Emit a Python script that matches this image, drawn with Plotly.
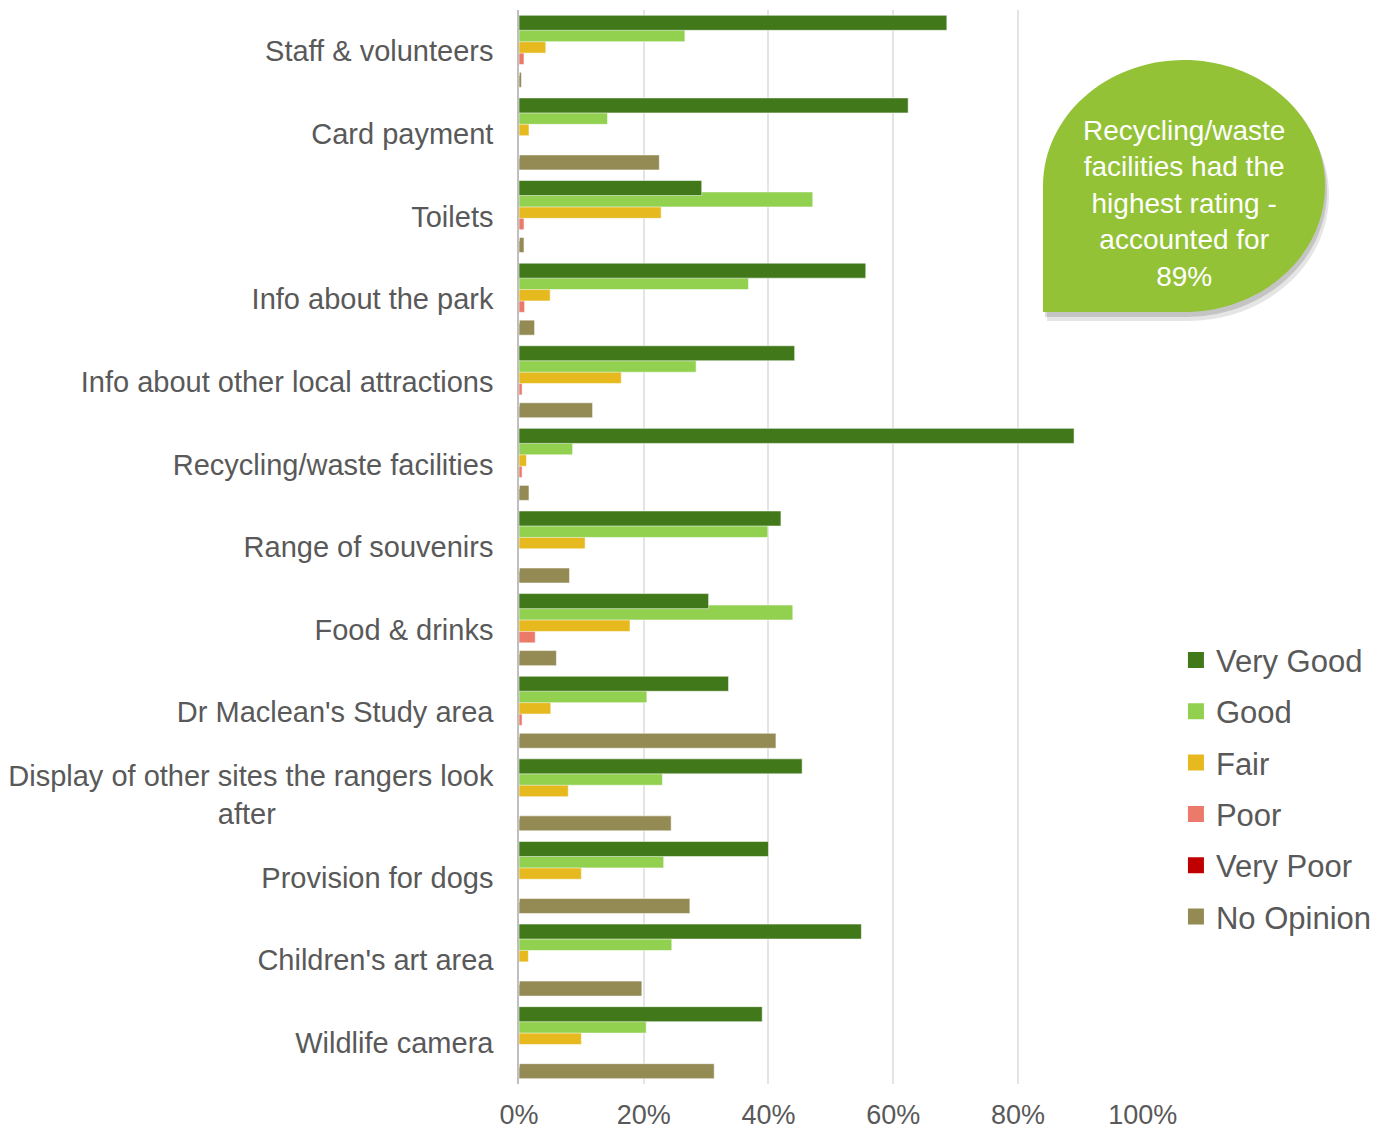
import plotly.graph_objects as go

categories = [
    "Staff & volunteers", "Card payment", "Toilets", "Info about the park",
    "Info about other local attractions", "Recycling/waste facilities",
    "Range of souvenirs", "Food & drinks", "Dr Maclean's Study area",
    "Display of other sites the rangers look<br>after" + "\u00a0" * 27,
    "Provision for dogs", "Children's art area", "Wildlife camera",
]

series_names = ["Very Good", "Good", "Fair", "Poor", "Very Poor", "No Opinion"]

very_good = [68.6, 62.4, 29.3, 55.6, 44.2, 89.0, 42.0, 30.4, 33.6, 45.4, 40.0, 54.9, 39.0]
good = [26.6, 14.2, 47.1, 36.8, 28.4, 8.6, 39.9, 43.9, 20.5, 23.0, 23.2, 24.5, 20.4]
fair = [4.3, 1.6, 22.8, 5.0, 16.4, 1.2, 10.6, 17.8, 5.1, 7.9, 10.0, 1.5, 10.0]
poor = [0.8, 0.0, 0.8, 0.9, 0.5, 0.5, 0.0, 2.6, 0.5, 0.0, 0.0, 0.0, 0.0]
very_poor = [0.0, 0.0, 0.0, 0.0, 0.0, 0.0, 0.0, 0.0, 0.0, 0.0, 0.0, 0.0, 0.0]
no_opinion = [0.4, 22.5, 0.8, 2.5, 11.8, 1.6, 8.1, 6.0, 41.2, 24.4, 27.4, 19.7, 31.3]

x_ticks = [0, 0.2, 0.4, 0.6, 0.8, 1.0]
x_tick_labels = ["0%", "20%", "40%", "60%", "80%", "100%"]

callout_text = "Recycling/waste<br>facilities had the<br>highest rating -<br>accounted for<br>89%"

colors = ["#40781A", "#92D050", "#E6B91E", "#EC7A6A", "#C00000", "#948A54"]
all_values = [very_good, good, fair, poor, very_poor, no_opinion]

FONT = "Arial, Liberation Sans, sans-serif"
TEXT_COLOR = "#595959"

# plot-area geometry (pixels)
W, H = 1390, 1130
L, R, T, B = 519, 247, 10, 46
PW, PH = W - L - R, H - T - B

bar_w = 0.182
step = 0.138

fig = go.Figure()
# draw No Opinion first so Very Good ends on top
for i in reversed(range(len(series_names))):
    center = (i - 2.5) * step
    fig.add_trace(go.Bar(
        y=categories,
        x=[v / 100 for v in all_values[i]],
        orientation="h",
        name=series_names[i],
        marker=dict(color=colors[i], line=dict(color="rgba(255,255,255,0.55)", width=1)),
        offset=center - bar_w / 2,
        width=bar_w,
        showlegend=False,
        hoverinfo="skip",
    ))

# legend proxies
for i, name in enumerate(series_names):
    fig.add_trace(go.Scatter(
        x=[None], y=[None], mode="markers", name=name,
        marker=dict(symbol="square", size=16, color=colors[i]),
        legendgroup=name, legendrank=i + 1,
    ))


def px(X, Y):
    return (X - L) / PW, 1 - (Y - T) / PH


def bubble_path(x0, y0, x1, y1, dx=0, dy=0):
    x0 += dx; x1 += dx; y0 += dy; y1 += dy
    xc, yc = (x0 + x1) / 2, (y0 + y1) / 2
    rx, ry = (x1 - x0) / 2, (y1 - y0) / 2
    k = 0.5523
    pts = [
        ("M", [(x0, y1)]),
        ("L", [(x0, yc)]),
        ("C", [(x0, yc - k * ry), (xc - k * rx, y0), (xc, y0)]),
        ("C", [(xc + k * rx, y0), (x1, yc - k * ry), (x1, yc)]),
        ("C", [(x1, yc + k * ry), (xc + k * rx, y1), (xc, y1)]),
    ]
    s = ""
    for cmd, plist in pts:
        s += cmd + " ".join("%.5f,%.5f" % px(a, b) for a, b in plist) + " "
    return s + "Z"


bx0, by0, bx1, by1 = 1043, 60, 1325, 312
fig.add_shape(type="path", xref="paper", yref="paper",
              path=bubble_path(bx0, by0, bx1, by1, 4, 9),
              fillcolor="rgba(0,0,0,0.10)", line=dict(width=0), layer="above")
fig.add_shape(type="path", xref="paper", yref="paper",
              path=bubble_path(bx0, by0, bx1, by1, 2, 5),
              fillcolor="rgba(0,0,0,0.14)", line=dict(width=0), layer="above")
fig.add_shape(type="path", xref="paper", yref="paper",
              path=bubble_path(bx0, by0, bx1, by1),
              fillcolor="#93C236", line=dict(width=0), layer="above")

ax, ay = px(1184, 204)
fig.add_annotation(x=ax, y=ay, xref="paper", yref="paper", text=callout_text,
                   showarrow=False, font=dict(family=FONT, size=28, color="white"),
                   xanchor="center", yanchor="middle", align="center")

fig.update_layout(
    width=W, height=H,
    margin=dict(l=L, r=R, t=T, b=B, pad=0, autoexpand=False),
    paper_bgcolor="white", plot_bgcolor="white",
    barmode="overlay",
    showlegend=True,
    legend=dict(
        xref="container", yref="container", x=0.846, y=0.4395,
        xanchor="left", yanchor="top",
        font=dict(family=FONT, size=31, color=TEXT_COLOR),
        tracegroupgap=8, bgcolor="rgba(0,0,0,0)",
    ),
    font=dict(family=FONT, color=TEXT_COLOR),
)

fig.update_xaxes(
    range=[0, 1.0005], tickvals=x_ticks, ticktext=x_tick_labels,
    showgrid=True, gridcolor="#E4E4E4", gridwidth=1.5,
    zeroline=False, showline=False, automargin=False,
    tickfont=dict(family=FONT, size=27, color=TEXT_COLOR),
    ticks="", ticklabelstandoff=12, fixedrange=True,
)
fig.update_yaxes(
    type="category", categoryorder="array", categoryarray=categories,
    autorange="reversed", automargin=False,
    showgrid=False, zeroline=False,
    showline=True, linecolor="#BFBFBF", linewidth=1.5,
    tickfont=dict(family=FONT, size=29, color=TEXT_COLOR),
    ticks="", ticklabelstandoff=18, fixedrange=True,
)

fig.write_html("out.html")
